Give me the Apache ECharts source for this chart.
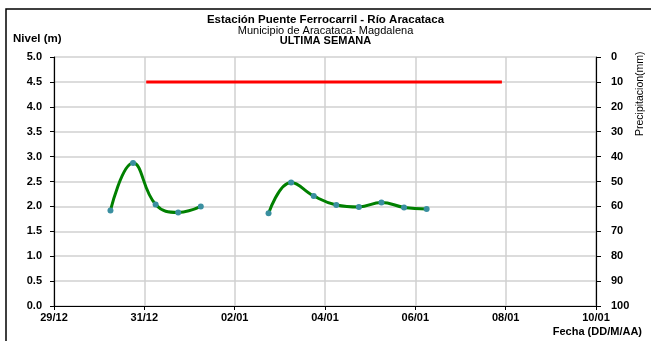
<!DOCTYPE html>
<html>
<head>
<meta charset="utf-8">
<script src="https://cdn.jsdelivr.net/npm/echarts@6/dist/echarts.min.js"></script>
<style>
html,body{margin:0;padding:0;background:#fff;}
#c{width:651px;height:341px;}
</style>
</head>
<body>
<div id="c"></div>
<script>
// ---- data ----
const xTickLabels = ['29/12','31/12','02/01','04/01','06/01','08/01','10/01'];
const levelTimes = ['30/12 06:00','30/12 18:00','31/12 06:00','31/12 18:00','01/01 06:00','01/01 18:00','02/01 06:00','02/01 18:00','03/01 06:00','03/01 18:00','04/01 06:00','04/01 18:00','05/01 06:00','05/01 18:00','06/01 06:00'];
const levels = [1.92, 2.87, 2.04, 1.88, 2.00, null, null, 1.86, 2.48, 2.21, 2.03, 1.99, 2.08, 1.98, 1.95];
const thresholdTimes = ['31/12 01:00','07/01 22:00'];
const thresholdValues = [4.5, 4.5];
const titleLines = ['Estación Puente Ferrocarril - Río Aracataca','Municipio de Aracataca- Magdalena','ULTIMA SEMANA'];

// day offset from 29/12 00:00
function dayOffset(s){
  const [d, t] = s.split(' ');
  const [dd, mm] = d.split('/').map(Number);
  const [hh, mi] = t.split(':').map(Number);
  const base = mm === 12 ? dd - 29 : dd + 2;
  return base + (hh + mi/60)/24;
}
const levelData = levelTimes.map((t,i)=>[dayOffset(t), levels[i]]);
const thrData = thresholdTimes.map((t,i)=>[dayOffset(t), thresholdValues[i]]);

const F = '"Liberation Sans", Arial, sans-serif';
const chart = echarts.init(document.getElementById('c'), null, {renderer:'canvas'});
chart.setOption({
  animation:false,
  backgroundColor:'#fff',
  title:[
    {text:titleLines[0], left:'center', top:14, padding:0, textStyle:{fontFamily:F, fontSize:11.5, fontWeight:'bold', color:'#000'}},
    {text:titleLines[1], left:'center', top:25, padding:0, textStyle:{fontFamily:F, fontSize:11, fontWeight:'normal', color:'#000'}},
    {text:titleLines[2], left:'center', top:35, padding:0, textStyle:{fontFamily:F, fontSize:11, fontWeight:'bold', color:'#000'}}
  ],
  graphic:[
    {type:'rect', shape:{x:6, y:9, width:800, height:500}, style:{fill:null, stroke:'#000', lineWidth:1.5}, silent:true, z:-1},
    {type:'text', left:13, top:33, style:{text:'Nivel (m)', font:'bold 11.5px '+F, fill:'#000'}},
    {type:'text', right:9, top:326, style:{text:'Fecha (DD/M/AA)', font:'bold 11px '+F, fill:'#000'}},
    {type:'text', x:635, y:136, rotation:Math.PI/2, style:{text:'Precipitacion(mm)', font:'10.5px '+F, fill:'#000'}}
  ],
  grid:{left:54, right:55, top:57, bottom:35, containLabel:false},
  xAxis:{
    type:'value', min:0, max:12, interval:2,
    axisLine:{show:true, onZero:false, lineStyle:{color:'#000', width:1.2}},
    axisTick:{show:true, length:4, lineStyle:{color:'#000'}},
    axisLabel:{margin:6, fontFamily:F, fontSize:11, fontWeight:'bold', color:'#000', formatter:v=>xTickLabels[Math.round(v/2)]},
    splitLine:{show:true, lineStyle:{color:'#d0d0d0', width:1.5}}
  },
  yAxis:[
    {type:'value', min:0, max:5, interval:0.5, position:'left',
     axisLine:{show:true, lineStyle:{color:'#000', width:1.2}},
     axisTick:{show:true, length:4, lineStyle:{color:'#000'}},
     axisLabel:{margin:12, fontFamily:F, fontSize:11, fontWeight:'bold', color:'#000', formatter:v=>v.toFixed(1)},
     splitLine:{show:true, lineStyle:{color:'#d0d0d0', width:1.5}}
    },
    {type:'value', min:0, max:100, interval:10, inverse:true, position:'right',
     axisLine:{show:true, lineStyle:{color:'#000', width:1.2}},
     axisTick:{show:true, length:5, lineStyle:{color:'#000'}},
     axisLabel:{margin:15, fontFamily:F, fontSize:11, fontWeight:'bold', color:'#000'},
     splitLine:{show:false}
    }
  ],
  series:[
    {type:'line', data:thrData, yAxisIndex:0, symbol:'none', lineStyle:{color:'#ff0000', width:3}, z:2},
    {type:'line', data:levelData, yAxisIndex:0, smooth:0.45, connectNulls:false,
     symbol:'circle', symbolSize:6, itemStyle:{color:'#3a8fa0'},
     lineStyle:{color:'#008000', width:3}, z:3}
  ]
});
</script>
</body>
</html>
